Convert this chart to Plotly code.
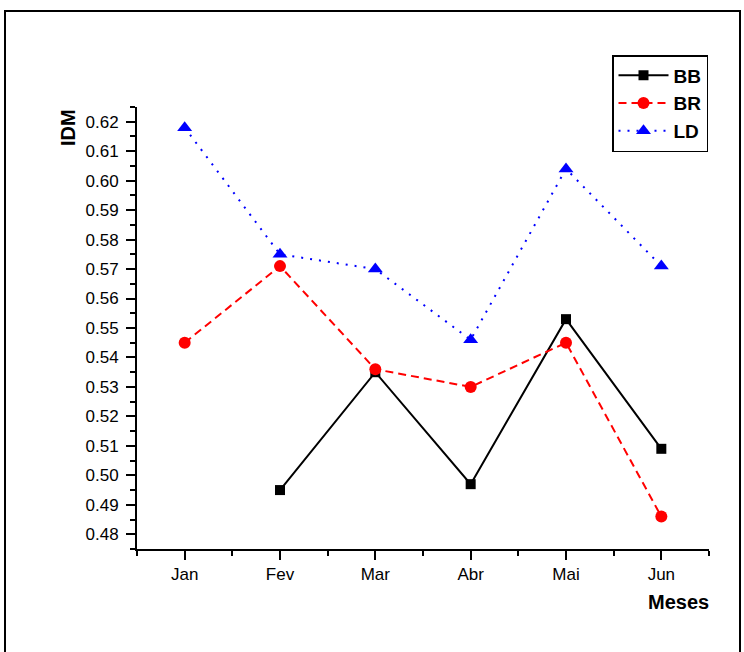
import plotly.graph_objects as go

months = ["Jan", "Fev", "Mar", "Abr", "Mai", "Jun"]
month_pos = [1, 2, 3, 4, 5, 6]
bb = [None, 0.495, 0.535, 0.497, 0.553, 0.509]
br = [0.545, 0.571, 0.536, 0.530, 0.545, 0.486]
ld = [0.618, 0.575, 0.570, 0.546, 0.604, 0.571]
y_ticks = [0.48, 0.49, 0.50, 0.51, 0.52, 0.53, 0.54, 0.55, 0.56, 0.57, 0.58, 0.59, 0.60, 0.61, 0.62]

W, H = 744, 652
L, R, T, B = 137, 35, 107, 103
pw, ph = W - L - R, H - T - B

def px_x(p):
    return (p - L) / pw

def px_y(p):
    return (H - B - p) / ph

fig = go.Figure()
fig.add_trace(go.Scatter(x=month_pos, y=bb, name="BB", mode="lines+markers",
                         line=dict(color="black", width=2),
                         marker=dict(symbol="square", size=10, color="black")))
fig.add_trace(go.Scatter(x=month_pos, y=br, name="BR", mode="lines+markers",
                         line=dict(color="#ff0000", width=2, dash="8px,5px"),
                         marker=dict(symbol="circle", size=12, color="#ff0000")))
fig.add_trace(go.Scatter(x=month_pos, y=ld, name="LD", mode="lines+markers",
                         line=dict(color="#0000ff", width=2, dash="2px,7px"),
                         marker=dict(symbol="triangle-up", size=13, color="#0000ff")))

font_family = "Liberation Sans, Arial, sans-serif"

fig.update_layout(
    width=W, height=H,
    margin=dict(l=L, r=R, t=T, b=B),
    paper_bgcolor="white", plot_bgcolor="white",
    font=dict(family=font_family, color="black", size=17),
    showlegend=True,
    legend=dict(x=px_x(612), y=px_y(55), xanchor="left", yanchor="top",
                bgcolor="white", bordercolor="black", borderwidth=1.5,
                font=dict(size=19, family=font_family, weight="bold"),
                itemwidth=50, tracegroupgap=0),
    xaxis=dict(range=[0.5, 6.5], tickvals=month_pos, ticktext=months,
               showgrid=False, zeroline=False, showline=True, linecolor="black", linewidth=2,
               ticks="outside", ticklen=9, tickwidth=2, tickcolor="black",
               tickfont=dict(size=17), ticklabelstandoff=0,
               minor=dict(tick0=0.5, dtick=0.5, ticks="outside", ticklen=5, tickwidth=2, tickcolor="black")),
    yaxis=dict(range=[0.475, 0.625], tickvals=y_ticks, tickformat=".2f",
               showgrid=False, zeroline=False, showline=True, linecolor="black", linewidth=2,
               ticks="outside", ticklen=9, tickwidth=2, tickcolor="black",
               tickfont=dict(size=17), ticklabelstandoff=4,
               minor=dict(tick0=0.475, dtick=0.005, ticks="outside", ticklen=5, tickwidth=2, tickcolor="black")),
    annotations=[
        dict(text="<b>IDM</b>", xref="paper", yref="paper", x=px_x(68), y=px_y(128),
             textangle=-90, showarrow=False, font=dict(size=20), xanchor="center", yanchor="middle"),
        dict(text="<b>Meses</b>", xref="paper", yref="paper", x=px_x(711), y=px_y(602),
             showarrow=False, font=dict(size=20), xanchor="right", yanchor="middle"),
    ],
    shapes=[
        dict(type="rect", xref="paper", yref="paper",
             x0=px_x(5), x1=px_x(740), y0=px_y(665), y1=px_y(11),
             line=dict(color="black", width=2), fillcolor="rgba(0,0,0,0)", layer="below"),
    ],
)

fig.write_html("out.html")
